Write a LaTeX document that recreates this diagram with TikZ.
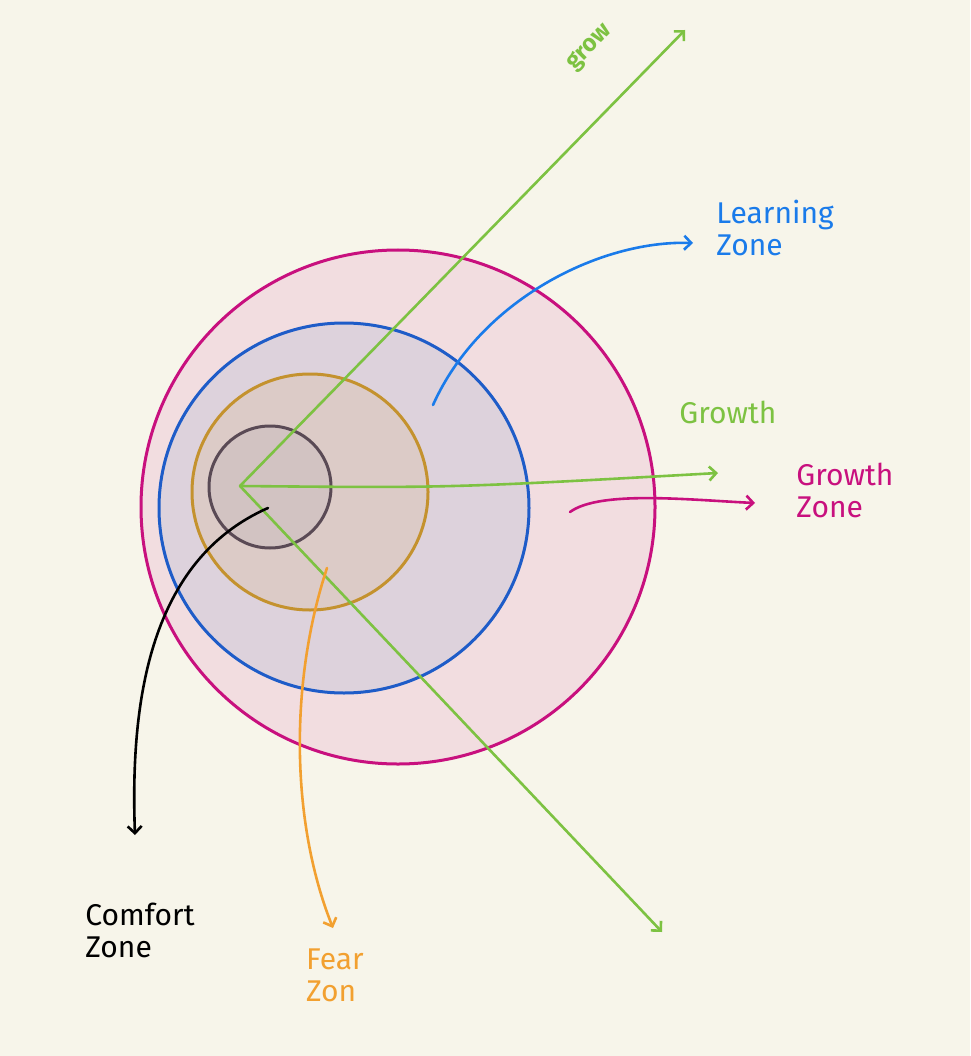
\documentclass[tikz,border=0pt]{standalone}
\usepackage{fontspec}
\setmainfont{Fira Sans}
\usetikzlibrary{arrows.meta}
\definecolor{bg}{HTML}{F7F5EA}
\definecolor{gz}{HTML}{C8107E}
\definecolor{lz}{HTML}{1E5CC8}
\definecolor{lzl}{HTML}{1A7BEA}
\definecolor{fz}{HTML}{C4922E}
\definecolor{cz}{HTML}{5A4A55}
\definecolor{gr}{HTML}{7DC242}
\definecolor{fo}{HTML}{F2A030}
\tikzset{arr/.style={line width=2.6pt,-{Straight Barb[length=7pt,width=14pt]},line cap=round},
 ring/.style={line width=3pt},
 lbl/.style={font=\fontsize{30}{32}\selectfont,align=left}}
\begin{document}
\begin{tikzpicture}[x=1pt,y=-1pt]
\fill[bg] (0,0) rectangle (970,1056);
\useasboundingbox (0,0) rectangle (970,1056);
\draw[ring,gz,fill={rgb,255:red,242;green,221;blue,224}] (398,507) circle (257);
\draw[ring,lz,fill={rgb,255:red,221;green,210;blue,220}] (344,508) circle (185);
\draw[ring,fz,fill={rgb,255:red,220;green,203;blue,199}] (310,492) circle (118);
\draw[ring,cz,fill={rgb,255:red,210;green,195;blue,194}] (270,487) circle (61);
\coordinate (o) at (240,486);
\coordinate (g1) at (685,30);
\coordinate (g2) at (718,473);
\coordinate (g3) at (662,932);
\draw[arr,gr] (o) -- (g1);
\draw[arr,gr] (o) .. controls (450,488) .. (g2);
\draw[arr,gr] (o) -- (g3);
\node[gr,rotate=45,font=\fontsize{24}{26}\selectfont\bfseries] (grow) at (590,48) {grow};
\node[lbl,gr] (growth) at (728,412) {Growth};
\node[lbl,gz] (gzt) at (845,490) {Growth\\Zone};
\node[lbl,lzl] (lzt) at (775,228) {Learning\\Zone};
\node[lbl,black] (czt) at (140,930) {Comfort\\Zone};
\node[lbl,fo] (fzt) at (335,975) {Fear\\Zon};
\coordinate (ms) at (570,512); \coordinate (me) at (755,503);
\draw[arr,gz] (ms) .. controls (600,490) and (690,500) .. (me);
\coordinate (ls) at (433,405); \coordinate (le) at (693,243);
\draw[arr,lzl] (ls) .. controls (480,300) and (600,240) .. (le);
\coordinate (cs) at (268,508); \coordinate (ce) at (135,835);
\draw[arr,black] (cs) .. controls (150,560) and (130,700) .. (ce);
\coordinate (fs) at (327,568); \coordinate (fe) at (333,928);
\draw[arr,fo] (fs) .. controls (290,680) and (290,820) .. (fe);
\end{tikzpicture}
\end{document}
